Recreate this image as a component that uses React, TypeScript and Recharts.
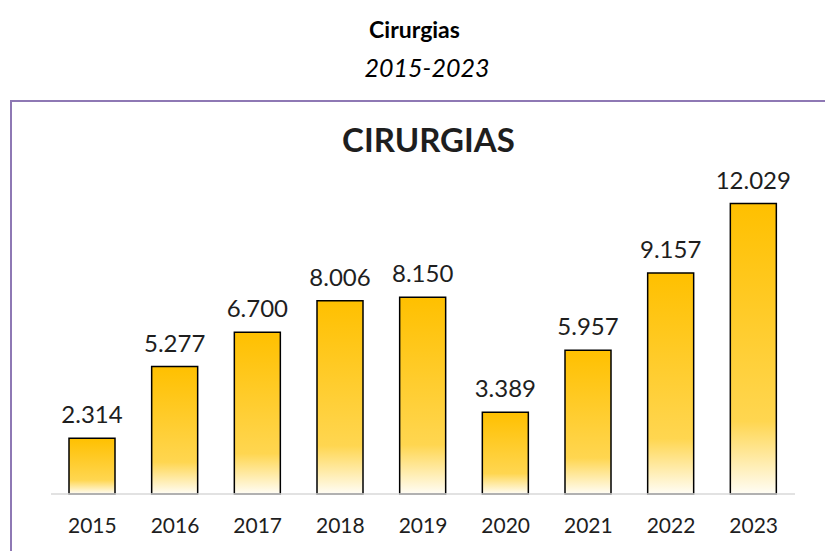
import React from 'react';
import { BarChart, Bar, XAxis, YAxis, LabelList } from 'recharts';

const years = ['2015', '2016', '2017', '2018', '2019', '2020', '2021', '2022', '2023'];
const cirurgias = [2314, 5277, 6700, 8006, 8150, 3389, 5957, 9157, 12029];

const data = years.map((year, i) => ({ year, value: cirurgias[i] }));

const font = 'Lato, "Open Sans", sans-serif';
const textColor = '#1E1E1E';

const fmt = (v: number) => String(v).replace(/\B(?=(\d{3})+(?!\d))/g, '.');

export default function App() {
  return (
    <div style={{ position: 'absolute', left: 0, top: 0, width: 825, height: 551, background: '#fff', fontFamily: font, overflow: 'hidden' }}>
      <div style={{ position: 'absolute', left: 0, width: 829, top: 15, textAlign: 'center', fontSize: 23, fontWeight: 700, color: '#000' }}>
        Cirurgias
      </div>
      <div style={{ position: 'absolute', left: 0, width: 854, top: 52, textAlign: 'center', fontSize: 25, fontStyle: 'italic', color: '#000' }}>
        2015-2023
      </div>
      <div style={{ position: 'absolute', left: 10, top: 100, width: 830, height: 460, borderTop: '2px solid #8E78B4', borderLeft: '2px solid #8E78B4' }} />
      <div style={{ position: 'absolute', left: 0, width: 857, top: 119, textAlign: 'center', fontSize: 33, fontWeight: 700, color: textColor }}>
        CIRURGIAS
      </div>
      <div style={{ position: 'absolute', left: 0, top: 0 }}>
        <BarChart width={825} height={551} data={data} margin={{ top: 156, right: 30, left: 51, bottom: 27 }} barSize={46}>
          <defs>
            <linearGradient id="barFill" x1="0" y1="0" x2="0" y2="1">
              <stop offset="0%" stopColor="#FFC000" />
              <stop offset="75%" stopColor="#FFD650" />
              <stop offset="100%" stopColor="#FFFDF5" />
            </linearGradient>
          </defs>
          <XAxis
            dataKey="year"
            height={30}
            tickLine={false}
            axisLine={{ stroke: '#D9D9D9', strokeWidth: 1.5 }}
            tick={{ fill: textColor, fontSize: 21, fontFamily: font }}
            tickMargin={18}
          />
          <YAxis hide domain={[0, 14000]} />
          <Bar dataKey="value" fill="url(#barFill)" stroke="#000" strokeWidth={1.5} isAnimationActive={false}>
            <LabelList
              dataKey="value"
              position="top"
              offset={15}
              formatter={(v: any) => fmt(Number(v))}
              style={{ fill: textColor, fontSize: 24, fontFamily: font }}
            />
          </Bar>
        </BarChart>
      </div>
    </div>
  );
}
